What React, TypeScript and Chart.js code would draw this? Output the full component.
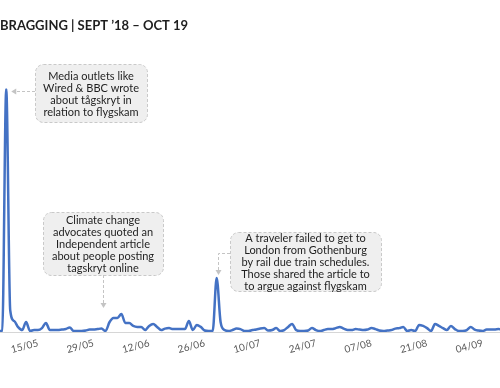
import React, { useEffect, useRef } from "react";
import { Chart, registerables } from "chart.js";

Chart.register(...registerables);

// ---- Data ----
const START_DATE = "2019-05-05";
const VALUES: number[] = [
  0.4, 0.5, 100, 9, 4.5, 2, 0.8, 4.1, 0.4, 0.8,
  0.8, 1.6, 3.7, 0.8, 0.8, 0.8, 1.0, 1.2, 1.9, 0.4,
  0.4, 0.4, 0.6, 1.0, 1.0, 1.2, 1.4, 0.4, 4.0, 5.8,
  5.8, 7.4, 3.7, 3.7, 2.5, 2.1, 2.1, 0.8, 2.5, 3.3,
  2.1, 0.8, 1.4, 1.6, 1.2, 1.2, 1.2, 1.2, 4.5, 0.8,
  2.9, 2.1, 0.6, 0.4, 0.4, 22.2, 4.0, 0.8, 0.4, 0.8,
  1.4, 1.2, 0.4, 0.4, 0.8, 1.0, 1.4, 1.6, 0.6, 0.8,
  1.6, 0.4, 0.8, 2.1, 3.3, 0.8, 0.4, 0.4, 0.6, 1.6,
  0.8, 0.4, 0.8, 1.2, 1.2, 1.6, 2.1, 1.4, 0.8, 0.8,
  1.2, 1.0, 0.8, 1.0, 1.6, 1.2, 0.6, 0.4, 0.6, 0.8,
  1.4, 1.6, 2.1, 0.4, 0.8, 0.4, 2.9, 2.5, 1.6, 0.4,
  3.3, 2.5, 1.6, 0.8, 2.5, 1.2, 0.4, 0.4, 0.8, 2.1,
  1.0, 0.6, 0.4, 1.0, 1.0, 1.0, 1.2, 1.0,
];
const TICK_LABELS = ["15/05", "29/05", "12/06", "26/06", "10/07", "24/07", "07/08", "21/08", "04/09"];
const TITLE = "BRAGGING | SEPT \u201918 \u2013 OCT 19";

const NOTE_MEDIA = ["Media outlets like", "Wired & BBC wrote", "about tågskryt in", "relation to flygskam"];
const NOTE_CLIMATE = ["Climate change", "advocates quoted an", "Independent article", "about people posting", "tagskryt online"];
const NOTE_TRAVELER = [
  "A traveler failed to get to",
  "London from Gothenburg",
  "by rail due train schedules.",
  "Those shared the article to",
  "to argue against flygskam",
];
const NOTE_DATES = ["07/05", "05/06", "29/06"];

function buildDates(start: string, n: number): string[] {
  const out: string[] = [];
  const d = new Date(start + "T00:00:00Z");
  for (let i = 0; i < n; i++) {
    const dd = String(d.getUTCDate()).padStart(2, "0");
    const mm = String(d.getUTCMonth() + 1).padStart(2, "0");
    out.push(`${dd}/${mm}`);
    d.setUTCDate(d.getUTCDate() + 1);
  }
  return out;
}

const DATES = buildDates(START_DATE, VALUES.length);

const FONT = "Lato, 'Open Sans', sans-serif";

type Note = {
  lines: string[];
  date: string;
  box: { dx: number; dy: number; w: number; h: number };
  arrow: "left" | "down" | "elbow";
};

const NOTES: Note[] = [
  { lines: NOTE_MEDIA, date: NOTE_DATES[0], box: { dx: 29, dy: -25, w: 112, h: 58 }, arrow: "left" },
  { lines: NOTE_CLIMATE, date: NOTE_DATES[1], box: { dx: -78, dy: -102, w: 120, h: 63 }, arrow: "down" },
  { lines: NOTE_TRAVELER, date: NOTE_DATES[2], box: { dx: 13, dy: -46, w: 151, h: 59 }, arrow: "elbow" },
];

function roundRect(ctx: CanvasRenderingContext2D, x: number, y: number, w: number, h: number, r: number) {
  ctx.beginPath();
  ctx.moveTo(x + r, y);
  ctx.lineTo(x + w - r, y);
  ctx.arcTo(x + w, y, x + w, y + r, r);
  ctx.lineTo(x + w, y + h - r);
  ctx.arcTo(x + w, y + h, x + w - r, y + h, r);
  ctx.lineTo(x + r, y + h);
  ctx.arcTo(x, y + h, x, y + h - r, r);
  ctx.lineTo(x, y + r);
  ctx.arcTo(x, y, x + r, y, r);
  ctx.closePath();
}

function arrowHead(ctx: CanvasRenderingContext2D, x: number, y: number, dir: "left" | "down") {
  ctx.beginPath();
  if (dir === "left") {
    ctx.moveTo(x, y);
    ctx.lineTo(x + 5, y - 3);
    ctx.lineTo(x + 5, y + 3);
  } else {
    ctx.moveTo(x, y);
    ctx.lineTo(x - 3, y - 5);
    ctx.lineTo(x + 3, y - 5);
  }
  ctx.closePath();
  ctx.fill();
}

const notesPlugin = {
  id: "notes",
  afterDatasetsDraw(chart: any) {
    const ctx: CanvasRenderingContext2D = chart.ctx;
    const xs = chart.scales.x;
    const ys = chart.scales.y;
    ctx.save();
    for (const n of NOTES) {
      const idx = DATES.indexOf(n.date);
      const px = xs.getPixelForValue(idx);
      const py = ys.getPixelForValue(VALUES[idx]);
      const bx = Math.round(px + n.box.dx);
      const by = Math.round(py + n.box.dy);
      const { w, h } = n.box;
      // box
      roundRect(ctx, bx + 0.5, by + 0.5, w, h, 8);
      ctx.fillStyle = "#efefef";
      ctx.fill();
      ctx.setLineDash([3, 2]);
      ctx.strokeStyle = "#c9c9c9";
      ctx.lineWidth = 1;
      ctx.stroke();
      // arrow
      ctx.strokeStyle = "#c4c4c4";
      ctx.fillStyle = "#c4c4c4";
      ctx.beginPath();
      if (n.arrow === "left") {
        const ay = by + 27.5;
        ctx.moveTo(bx, ay);
        ctx.lineTo(px + 8, ay);
        ctx.stroke();
        ctx.setLineDash([]);
        arrowHead(ctx, px + 5, ay, "left");
      } else if (n.arrow === "down") {
        const ax = Math.round(bx + w / 2) + 0.5;
        ctx.moveTo(ax, by + h);
        ctx.lineTo(ax, py - 10);
        ctx.stroke();
        ctx.setLineDash([]);
        arrowHead(ctx, ax, py - 6, "down");
      } else {
        const ay = by + 21.5;
        const ax = Math.round(px) + 1.5;
        ctx.moveTo(bx, ay);
        ctx.lineTo(ax, ay);
        ctx.lineTo(ax, py - 7);
        ctx.stroke();
        ctx.setLineDash([]);
        arrowHead(ctx, ax, py - 3, "down");
      }
      ctx.setLineDash([]);
      // text
      ctx.fillStyle = "#1e1e1e";
      ctx.font = `11px ${FONT}`;
      ctx.textAlign = "center";
      ctx.textBaseline = "middle";
      const lh = 12;
      const total = n.lines.length * lh;
      const top = by + (h - total) / 2 + lh / 2 + 1;
      n.lines.forEach((l, i) => ctx.fillText(l, bx + w / 2, top + i * lh));
    }
    ctx.restore();
  },
};

export default function App() {
  const ref = useRef<HTMLCanvasElement | null>(null);
  useEffect(() => {
    document.body.style.margin = "0";
    if (!ref.current) return;
    const tickIdx = TICK_LABELS.map((t) => DATES.indexOf(t));
    const chart = new Chart(ref.current, {
      type: "line",
      data: {
        datasets: [
          {
            data: VALUES.map((v, i) => ({ x: i, y: v })),
            borderColor: "#4472c4",
            borderWidth: 2.5,
            pointRadius: 0,
            cubicInterpolationMode: "monotone",
            fill: false,
          },
        ],
      },
      options: {
        animation: false,
        responsive: false,
        devicePixelRatio: 1,
        layout: { padding: 0 },
        plugins: {
          legend: { display: false },
          tooltip: { enabled: false },
          title: {
            display: true,
            text: TITLE,
            align: "start",
            color: "#1e1e1e",
            font: { family: FONT, size: 13, weight: "bold" },
            padding: { top: 18, bottom: 55 },
          },
        },
        scales: {
          x: {
            type: "linear",
            min: 0.43,
            max: 126.37,
            afterBuildTicks: (axis: any) => {
              axis.ticks = tickIdx.map((v) => ({ value: v }));
            },
            afterFit: (axis: any) => {
              axis.height = 56;
            },
            grid: { display: false, tickLength: 3 },
            border: { display: true, color: "#d6d6d6", width: 1 },
            ticks: {
              autoSkip: false,
              minRotation: 15,
              maxRotation: 15,
              padding: 2,
              color: "#5a5a5a",
              font: { family: FONT, size: 10 },
              callback: (v: any) => DATES[Math.round(Number(v))],
            },
          },
          y: {
            display: false,
            min: 0,
            max: 100,
          },
        },
      },
      plugins: [notesPlugin],
    });
    return () => chart.destroy();
  }, []);
  return (
    <div style={{ width: 500, height: 388, position: "relative" }}>
      <canvas ref={ref} width={500} height={388} />
    </div>
  );
}
